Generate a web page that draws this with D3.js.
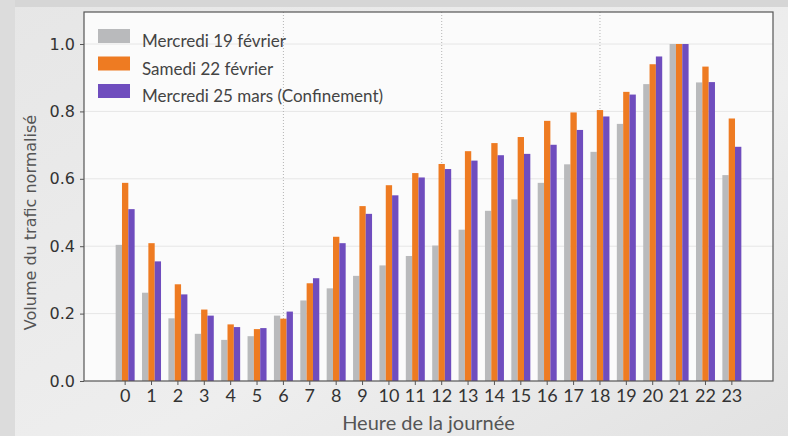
<!DOCTYPE html>
<html>
<head>
<meta charset="utf-8">
<script src="https://cdn.jsdelivr.net/npm/d3@7"></script>
<style>
  html, body { margin: 0; padding: 0; background: #ebebeb; }
  svg { display: block; }
</style>
</head>
<body>
<svg id="chart" width="788" height="436"></svg>
<script>
const hours = d3.range(0, 24).map(String);
const seriesNames = ["Mercredi 19 février", "Samedi 22 février", "Mercredi 25 mars (Confinement)"];
const seriesColors = ["#b9babc", "#ee7b22", "#6f4dbe"];
const wed19 = [0.404, 0.262, 0.186, 0.140, 0.122, 0.133, 0.194, 0.239, 0.275, 0.312, 0.343, 0.371,
               0.402, 0.449, 0.505, 0.539, 0.588, 0.643, 0.680, 0.763, 0.881, 1.000, 0.886, 0.611];
const sat22 = [0.588, 0.409, 0.287, 0.212, 0.168, 0.154, 0.185, 0.290, 0.428, 0.519, 0.581, 0.617,
               0.644, 0.682, 0.706, 0.724, 0.772, 0.797, 0.804, 0.858, 0.940, 1.000, 0.933, 0.779];
const mar25 = [0.510, 0.355, 0.257, 0.194, 0.160, 0.157, 0.206, 0.305, 0.409, 0.496, 0.551, 0.604,
               0.629, 0.654, 0.670, 0.674, 0.701, 0.745, 0.785, 0.850, 0.963, 1.000, 0.887, 0.695];
const yTicks = [0, 0.2, 0.4, 0.6, 0.8, 1.0];
const vGridHours = ["6", "12", "18"];
const xTitle = "Heure de la journée";
const yTitle = "Volume du trafic normalisé";

const series = [wed19, sat22, mar25];

const svg = d3.select("#chart");
const L = 84, R = 773, T = 12, B = 381;

// background
const defs = svg.append("defs");
const grad = defs.append("linearGradient").attr("id", "bg").attr("x1", 0).attr("x2", 1).attr("y1", 0).attr("y2", 1);
grad.append("stop").attr("offset", "0%").attr("stop-color", "#e6e6e6");
grad.append("stop").attr("offset", "60%").attr("stop-color", "#eeeeee");
grad.append("stop").attr("offset", "100%").attr("stop-color", "#e2e2e2");
svg.append("rect").attr("width", 788).attr("height", 436).attr("fill", "url(#bg)");
svg.append("rect").attr("x", 0).attr("y", 0).attr("width", 788).attr("height", 7).attr("fill", "#d6d6d6");
svg.append("rect").attr("x", 0).attr("y", 0).attr("width", 15).attr("height", 436).attr("fill", "#dcdcdc");

const x = d3.scaleBand().domain(hours).range([L, R]).paddingInner(0.28).paddingOuter(1.2);
const xs = d3.scaleBand().domain(d3.range(3)).range([0, x.bandwidth()]);
const y = d3.scaleLinear().domain([0, 1.095]).range([B, T]);

// plot area
svg.append("rect").attr("x", L).attr("y", T).attr("width", R - L).attr("height", B - T).attr("fill", "#fbfbfb");

// horizontal grid
svg.append("g").selectAll("line").data(yTicks.slice(1)).join("line")
  .attr("x1", L).attr("x2", R)
  .attr("y1", d => y(d)).attr("y2", d => y(d))
  .attr("stroke", "#e6e6e6").attr("stroke-width", 1);

// vertical dotted grid
svg.append("g").selectAll("line").data(vGridHours).join("line")
  .attr("x1", d => x(d) + x.bandwidth() / 2).attr("x2", d => x(d) + x.bandwidth() / 2)
  .attr("y1", T).attr("y2", B)
  .attr("stroke", "#b5b5b5").attr("stroke-width", 1).attr("stroke-dasharray", "1,2");

// bars
series.forEach((vals, si) => {
  svg.append("g").selectAll("rect").data(vals).join("rect")
    .attr("x", (d, i) => x(hours[i]) + xs(si))
    .attr("width", xs.bandwidth())
    .attr("y", d => y(d))
    .attr("height", d => y(0) - y(d))
    .attr("fill", seriesColors[si]);
});

// frame
svg.append("rect").attr("x", L).attr("y", T).attr("width", R - L).attr("height", B - T)
  .attr("fill", "none").attr("stroke", "#555").attr("stroke-width", 1.2);

// y axis
const yAxis = svg.append("g").attr("transform", `translate(${L},0)`)
  .call(d3.axisLeft(y).tickValues(yTicks).tickFormat(d3.format(".1f")).tickSize(4).tickPadding(5));
yAxis.select(".domain").remove();
yAxis.selectAll("line").attr("stroke", "#555");
yAxis.selectAll("text").attr("font-family", "DejaVu Sans").attr("font-size", 16).attr("fill", "#333");

// x axis
const xAxis = svg.append("g").attr("transform", `translate(0,${B})`)
  .call(d3.axisBottom(x).tickSize(4).tickPadding(4));
xAxis.select(".domain").remove();
xAxis.selectAll("line").attr("stroke", "#555");
xAxis.selectAll("text").attr("font-family", "Lato").attr("font-size", 18).attr("fill", "#333");

// axis titles
svg.append("text").attr("x", (L + R) / 2).attr("y", 430).attr("text-anchor", "middle")
  .attr("font-family", "Lato").attr("font-size", 20).attr("fill", "#555").text(xTitle);
svg.append("text").attr("transform", `translate(36,${(T + B) / 2 + 26}) rotate(-90)`).attr("text-anchor", "middle")
  .attr("font-family", "DejaVu Sans").attr("font-size", 16).attr("fill", "#555").text(yTitle);

// legend
const lg = svg.append("g");
seriesNames.forEach((name, i) => {
  const cy = 36 + i * 27.5;
  lg.append("rect").attr("x", 98).attr("y", cy - 7).attr("width", 32).attr("height", 14).attr("fill", seriesColors[i]);
  lg.append("text").attr("x", 142).attr("y", cy + 11).attr("font-family", "Lato").attr("font-size", 17)
    .attr("fill", "#444").text(name);
});
</script>
</body>
</html>
